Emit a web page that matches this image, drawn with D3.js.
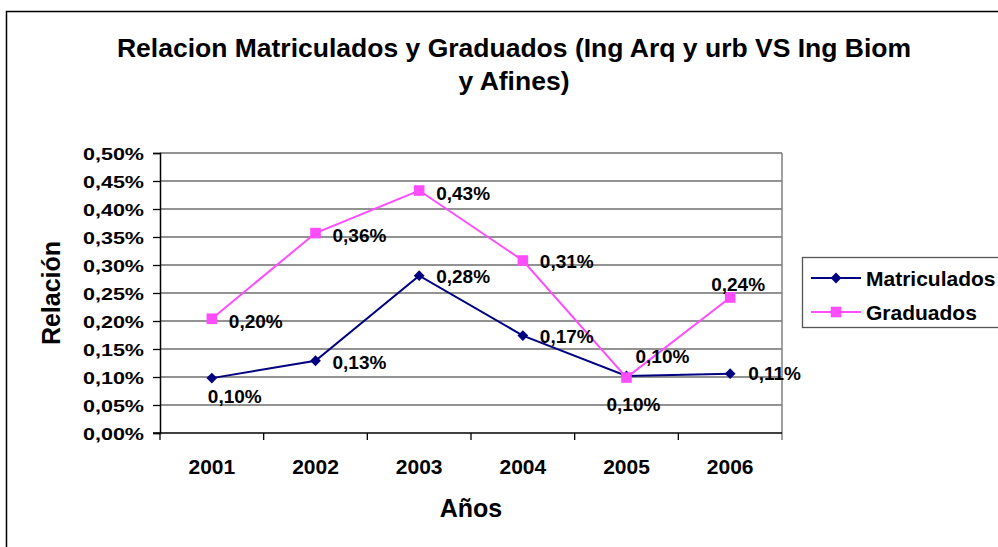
<!DOCTYPE html>
<html lang="es">
  <head>
    <meta charset="UTF-8" />
    <title>Relacion Matriculados y Graduados</title>
    <script src="https://d3js.org/d3.v7.min.js"></script>
    <style>
      body {
        margin: 0;
        background: #fff;
      }
      text {
        font-family: "Liberation Sans", Arial, sans-serif;
        font-weight: bold;
        fill: #000;
      }
    </style>
  </head>
  <body>
    <div id="chart"></div>

    <script>
      // Data (values in percent)
      const years = ["2001", "2002", "2003", "2004", "2005", "2006"];
      const matriculados = [0.098, 0.129, 0.281, 0.174, 0.102, 0.106];
      const graduados = [0.204, 0.357, 0.433, 0.308, 0.099, 0.242];
      const yTicks = [0, 0.05, 0.1, 0.15, 0.2, 0.25, 0.3, 0.35, 0.4, 0.45, 0.5];
      const seriesNames = ["Matriculados", "Graduados"];

      const width = 998;
      const height = 547;
      const plot = { left: 160, right: 782, top: 153, bottom: 433 };

      const fmt = (v) => v.toFixed(2).replace(".", ",") + "%";

      const svg = d3
        .select("#chart")
        .append("svg")
        .attr("width", width)
        .attr("height", height);

      // outer chart border
      svg
        .append("rect")
        .attr("x", 6.5)
        .attr("y", 11.5)
        .attr("width", 1100)
        .attr("height", 600)
        .attr("fill", "#fff")
        .attr("stroke", "#000")
        .attr("stroke-width", 1.5);

      // title
      const title = svg
        .append("text")
        .attr("text-anchor", "middle")
        .style("font-size", "26.5px");
      title.append("tspan").attr("x", 514).attr("y", 57)
        .text("Relacion Matriculados y Graduados (Ing Arq y urb VS Ing Biom");
      title.append("tspan").attr("x", 514).attr("y", 90).text("y Afines)");

      const x = d3
        .scaleBand()
        .domain(years)
        .range([plot.left, plot.right]);
      const cx = (d) => x(d) + x.bandwidth() / 2;

      const y = d3
        .scaleLinear()
        .domain([0, 0.5])
        .range([plot.bottom, plot.top]);

      // gridlines
      svg
        .append("g")
        .selectAll("line")
        .data(yTicks.slice(1))
        .enter()
        .append("line")
        .attr("x1", plot.left)
        .attr("x2", plot.right)
        .attr("y1", (d) => y(d))
        .attr("y2", (d) => y(d))
        .attr("stroke", "#6e6e6e")
        .attr("stroke-width", 1.3);

      // right border of plot area
      svg
        .append("line")
        .attr("x1", plot.right)
        .attr("x2", plot.right)
        .attr("y1", plot.top)
        .attr("y2", plot.bottom + 7)
        .attr("stroke", "#808080")
        .attr("stroke-width", 1.5);

      // y axis
      const yAxis = svg
        .append("g")
        .attr("transform", `translate(${plot.left},0)`)
        .call(
          d3.axisLeft(y).tickValues(yTicks).tickSize(7).tickPadding(9).tickFormat(fmt)
        );
      yAxis.select(".domain").attr("stroke", "#000").attr("stroke-width", 1.5);
      yAxis.selectAll(".tick line").attr("stroke", "#000").attr("stroke-width", 1.3);
      yAxis
        .selectAll(".tick text")
        .style("font-family", '"Liberation Sans", Arial, sans-serif')
        .style("font-size", "17px")
        .attr("fill", "#000")
        .attr("dy", "0.36em")
        .attr("textLength", 61)
        .attr("lengthAdjust", "spacingAndGlyphs");

      // x axis
      svg
        .append("line")
        .attr("x1", plot.left - 7)
        .attr("x2", plot.right)
        .attr("y1", plot.bottom)
        .attr("y2", plot.bottom)
        .attr("stroke", "#000")
        .attr("stroke-width", 1.5);

      svg
        .append("g")
        .selectAll("line")
        .data(years)
        .enter()
        .append("line")
        .attr("x1", (d) => x(d))
        .attr("x2", (d) => x(d))
        .attr("y1", plot.bottom)
        .attr("y2", plot.bottom + 7)
        .attr("stroke", "#000")
        .attr("stroke-width", 1.3);

      svg
        .append("g")
        .selectAll("text")
        .data(years)
        .enter()
        .append("text")
        .attr("x", cx)
        .attr("y", 474)
        .attr("text-anchor", "middle")
        .style("font-size", "21px")
        .text((d) => d);

      // axis titles
      svg
        .append("text")
        .attr("x", (plot.left + plot.right) / 2)
        .attr("y", 517)
        .attr("text-anchor", "middle")
        .style("font-size", "25px")
        .text("Años");

      svg
        .append("text")
        .attr("transform", `translate(60,${(plot.top + plot.bottom) / 2}) rotate(-90)`)
        .attr("text-anchor", "middle")
        .style("font-size", "25px")
        .text("Relación");

      // series
      const series = [
        { name: seriesNames[0], values: matriculados, color: "#000080", shape: "diamond" },
        { name: seriesNames[1], values: graduados, color: "#ff4cff", shape: "square" },
      ];

      const marker = (shape) =>
        shape === "diamond"
          ? d3.symbol(d3.symbolSquare, 58)()
          : d3.symbol(d3.symbolSquare, 112)();
      const markerRot = (shape) => (shape === "diamond" ? " rotate(45)" : "");

      const line = d3
        .line()
        .x((d, i) => cx(years[i]))
        .y((d) => y(d));

      // label placement relative to the marker [dx, dy]
      const labelOffsets = {
        Matriculados: [[-4, 18], [17, 1], [17, 1], [17, 1], [9, -20], [18, 0]],
        Graduados: [[17, 2], [17, 2], [17, 3], [17, 1], [-20, 27], [-19, -13]],
      };

      series.forEach((s) => {
        svg
          .append("path")
          .datum(s.values)
          .attr("d", line)
          .attr("fill", "none")
          .attr("stroke", s.color)
          .attr("stroke-width", 2);

        svg
          .append("g")
          .selectAll("path")
          .data(s.values)
          .enter()
          .append("path")
          .attr("d", marker(s.shape))
          .attr(
            "transform",
            (d, i) => `translate(${cx(years[i])},${y(d)})` + markerRot(s.shape)
          )
          .attr("fill", s.color);
      });

      series.forEach((s) => {
        svg
          .append("g")
          .selectAll("text")
          .data(s.values)
          .enter()
          .append("text")
          .attr("x", (d, i) => cx(years[i]) + labelOffsets[s.name][i][0])
          .attr("y", (d, i) => y(d) + labelOffsets[s.name][i][1])
          .attr("dy", "0.36em")
          .style("font-size", "19px")
          .text(fmt);
      });

      // legend
      const legend = svg.append("g").attr("transform", "translate(802,257)");
      legend
        .append("rect")
        .attr("x", 0.5)
        .attr("y", 0.5)
        .attr("width", 220)
        .attr("height", 70)
        .attr("fill", "#fff")
        .attr("stroke", "#555")
        .attr("stroke-width", 1.3);

      const items = legend
        .selectAll(".legend-item")
        .data(series)
        .enter()
        .append("g")
        .attr("class", "legend-item")
        .attr("transform", (d, i) => `translate(0,${21 + i * 34})`);

      items
        .append("line")
        .attr("x1", 9)
        .attr("x2", 59)
        .attr("stroke", (d) => d.color)
        .attr("stroke-width", 2);

      items
        .append("path")
        .attr("d", (d) => marker(d.shape))
        .attr("transform", (d) => "translate(34,0)" + markerRot(d.shape))
        .attr("fill", (d) => d.color);

      items
        .append("text")
        .attr("x", 64)
        .attr("dy", "0.36em")
        .style("font-size", "21px")
        .text((d) => d.name);
    </script>
  </body>
</html>
